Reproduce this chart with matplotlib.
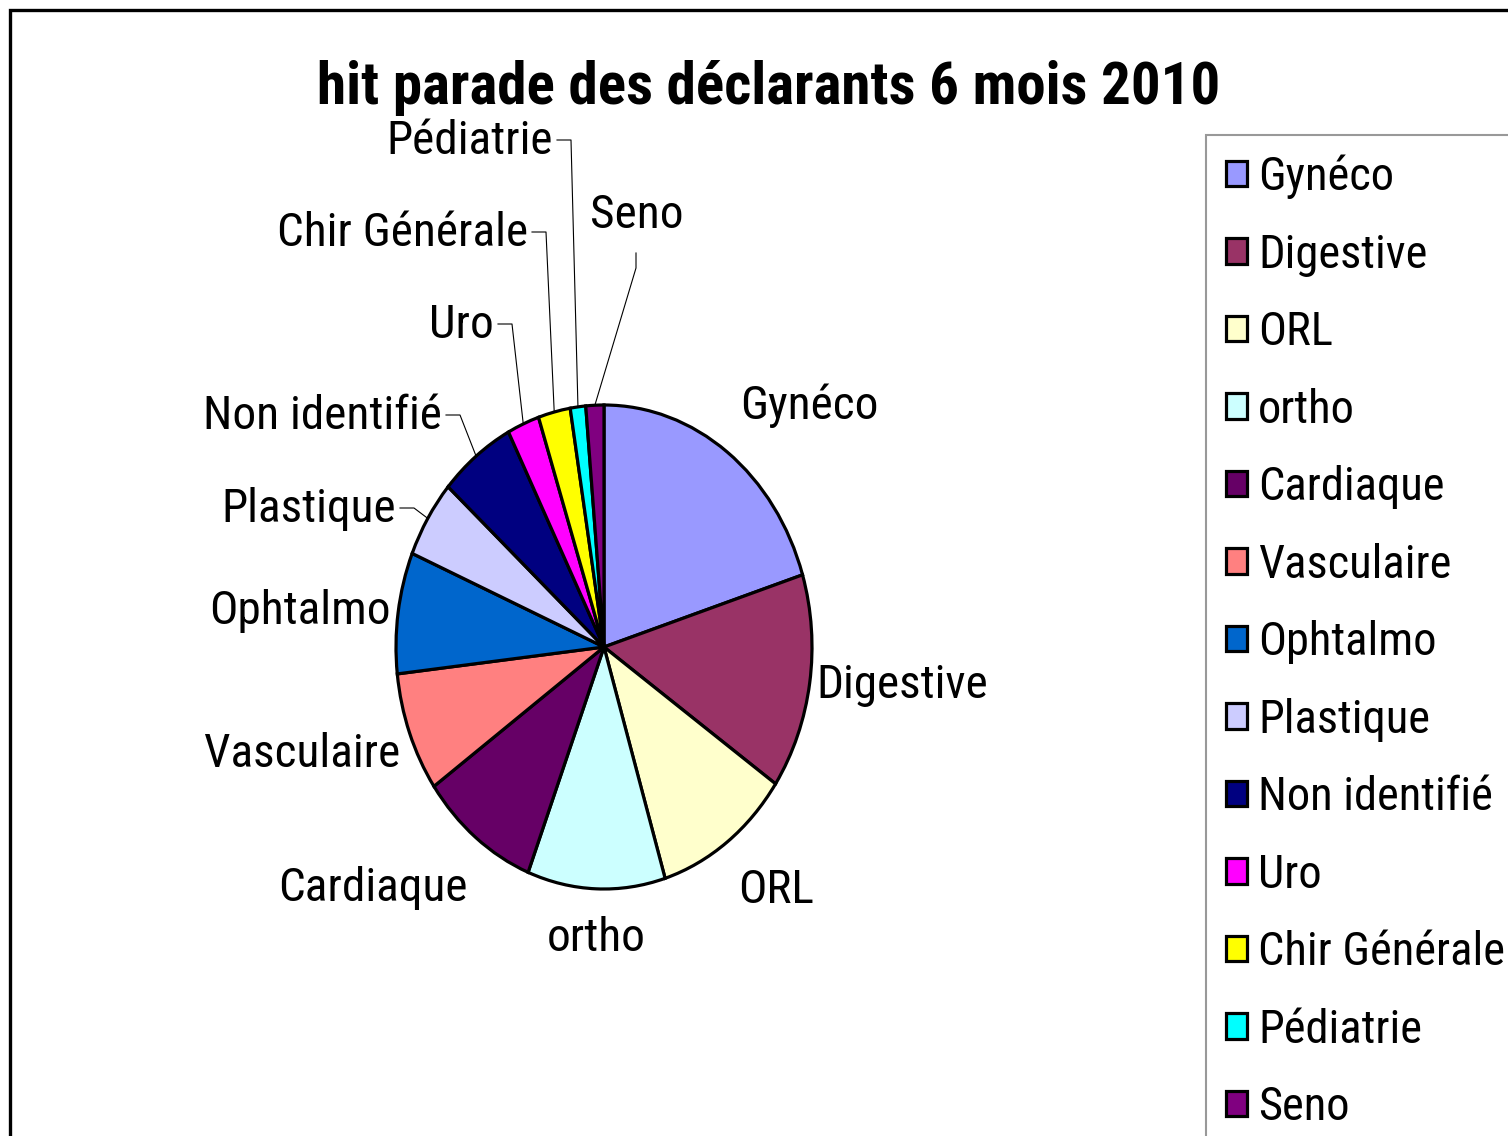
import matplotlib
matplotlib.use('Agg')
import matplotlib.pyplot as plt
from matplotlib.patches import Rectangle
import numpy as np

# ---------------- data ----------------
categories = ['Gynéco', 'Digestive', 'ORL', 'ortho', 'Cardiaque', 'Vasculaire',
              'Ophtalmo', 'Plastique', 'Non identifié', 'Uro', 'Chir Générale',
              'Pédiatrie', 'Seno']
values = [20.2, 14.4, 10.7, 10.7, 9.3, 8.0, 8.1, 5.2, 5.9, 2.5, 2.5, 1.2, 1.4]
colors = ['#9999FF', '#993366', '#FFFFCC', '#CCFFFF', '#660066', '#FF8080',
          '#0066CC', '#CCCCFF', '#000080', '#FF00FF', '#FFFF00', '#00FFFF',
          '#800080']
title = 'hit parade des déclarants 6 mois 2010'

# ---------------- layout (pixels) ----------------
W, H = 1508, 1136
FONT = ['Liberation Sans Narrow', 'Nimbus Sans Narrow', 'Roboto Condensed',
        'Archivo Narrow', 'Liberation Sans', 'DejaVu Sans']
plt.rcParams['font.family'] = FONT
FS = 34
LEG_FS = 33.5

# label positions: (x, y, ha, leader)  leader: None / 'left' / 'down'
label_layout = {
    'Gynéco': (809, 406, 'center', None),
    'Digestive': (902, 685, 'center', None),
    'ORL': (776, 890, 'center', None),
    'ortho': (596, 938, 'center', None),
    'Cardiaque': (373, 888, 'center', None),
    'Vasculaire': (302, 754, 'center', None),
    'Ophtalmo': (300, 611, 'center', None),
    'Plastique': (396, 509, 'right', 'left'),
    'Non identifié': (442, 416, 'right', 'left'),
    'Uro': (494, 325, 'right', 'left'),
    'Chir Générale': (528, 233, 'right', 'left'),
    'Pédiatrie': (553, 141, 'right', 'left'),
    'Seno': (637, 215, 'center', 'down'),
}

fig = plt.figure(figsize=(W / 100, H / 100), dpi=100)

cx, cy, rx, ry = 604, 647, 208, 242
ax = fig.add_axes([(cx - rx) / W, (H - cy - ry) / H, 2 * rx / W, 2 * ry / H])
wedges, _ = ax.pie(values, colors=colors, startangle=90, counterclock=False,
                   wedgeprops=dict(edgecolor='black', linewidth=2.3))
ax.set_aspect('auto')
ax.set_xlim(-1, 1)
ax.set_ylim(-1, 1)
ax.axis('off')


def d(px, py):
    return ((px - cx) / rx, (cy - py) / ry)


for w, name in zip(wedges, categories):
    px, py, ha, leader = label_layout[name]
    tx, ty = d(px, py)
    ax.text(tx, ty, name, ha=ha, va='center', fontsize=FS, color='black',
            clip_on=False)
    if leader is None:
        continue
    th = np.deg2rad((w.theta1 + w.theta2) / 2)
    axp, ayp = np.cos(th), np.sin(th)
    if leader == 'left':
        x0, y0 = d(px + 4, py - 1)
        x1, _ = d(px + 18, py - 1)
        xs, ys = [x0, x1, axp], [y0, y0, ayp]
    else:
        x0, y0 = d(px - 1, py + 38)
        _, y1 = d(px - 1, py + 53)
        xs, ys = [x0, x0, axp], [y0, y1, ayp]
    ax.plot(xs, ys, color='black', lw=0.8, clip_on=False)

# title
fig.text(769 / W, 1 - 88 / H, title, ha='center', va='center',
         fontsize=42.5, fontweight='bold')

# legend
leg = fig.legend(wedges, categories, loc='upper left',
                 bbox_to_anchor=(1206 / W, 1 - 135 / H), borderaxespad=0,
                 fontsize=LEG_FS, frameon=True, fancybox=False,
                 edgecolor='#808080', handlelength=0.46, handleheight=0.48,
                 handletextpad=0.24, labelspacing=0.72, borderpad=0.42)
leg.get_frame().set_linewidth(1.5)

# chart border
fig.add_artist(Rectangle((10 / W, -0.1), 1.2, 1.1 - 10 / H,
                         transform=fig.transFigure, fill=False,
                         edgecolor='black', linewidth=2.4))

fig.savefig('out.png', dpi=100, facecolor='white')
